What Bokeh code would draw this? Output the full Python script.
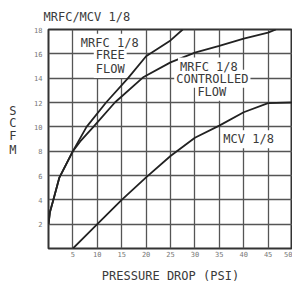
from bokeh.plotting import figure
from bokeh.models import Label, FixedTicker, Range1d, LinearAxis
from bokeh.embed import file_html
from bokeh.resources import INLINE

# data
free_x = [0, 0.3, 1.0, 2.2, 5.0, 7.8, 11.8, 16.3, 20.0, 25.0, 27.5]
free_y = [2, 3.0, 4.0, 5.8, 8.0, 10.0, 12.0, 14.0, 15.8, 17.1, 18.0]
ctrl_x = [0, 0.3, 1.0, 2.2, 5.0, 6.5, 9.2, 13.6, 19.5, 25.0, 30.0, 35.0, 40.0, 45.0, 46.6]
ctrl_y = [2, 3.0, 4.0, 5.8, 8.0, 8.8, 10.0, 12.0, 14.1, 15.3, 16.1, 16.65, 17.25, 17.75, 18.0]
mcv_x = [5, 10, 15, 20, 25, 30, 35, 40, 45, 50]
mcv_y = [0, 2, 4, 5.85, 7.6, 9.1, 10.1, 11.2, 11.95, 12.0]
x_ticks = [5, 10, 15, 20, 25, 30, 35, 40, 45, 50]
y_ticks = [2, 4, 6, 8, 10, 12, 14, 16, 18]
title_text = "MRFC/MCV 1/8"
x_title = "PRESSURE DROP (PSI)"
y_title_letters = ["S", "C", "F", "M"]

FONT = "DejaVu Sans Mono"
TXT = "#3a3a3a"

p = figure(width=292, height=285, output_backend="svg", toolbar_location=None,
           x_range=Range1d(0, 50), y_range=Range1d(0, 18),
           min_border_left=48, min_border_right=0, min_border_top=29, min_border_bottom=35,
           title=title_text)
p.background_fill_color = "white"
p.border_fill_color = "white"
p.outline_line_color = "#333333"
p.outline_line_width = 2

p.title.text_font = FONT
p.title.text_font_size = "12px"
p.title.text_font_style = "normal"
p.title.text_color = TXT
p.title.align = "left"
p.title.offset = -5
p.title.standoff = 12

p.xaxis.ticker = FixedTicker(ticks=x_ticks)
p.yaxis.ticker = FixedTicker(ticks=y_ticks)
for ax in (p.xaxis, p.yaxis):
    ax.axis_line_color = None
    ax.major_tick_line_color = None
    ax.minor_tick_line_color = None
    ax.major_tick_out = 0
    ax.major_tick_in = 0
    ax.major_label_text_font = FONT
    ax.major_label_text_font_size = "7px"
    ax.major_label_text_color = "#777777"
p.xaxis.major_label_standoff = 2
p.yaxis.major_label_standoff = 6
p.xaxis.axis_label = x_title
p.xaxis.axis_label_text_font = FONT
p.xaxis.axis_label_text_font_size = "12px"
p.xaxis.axis_label_text_font_style = "normal"
p.xaxis.axis_label_text_color = TXT
p.xaxis.axis_label_standoff = 9

# stacked upright y-axis title via an extra axis with overridden labels
letter_pos = [11.34, 10.30, 9.24, 8.07]
yl = LinearAxis(ticker=FixedTicker(ticks=letter_pos),
                major_label_overrides={v: t for v, t in zip(letter_pos, y_title_letters)},
                axis_line_color=None, major_tick_line_color=None, minor_tick_line_color=None,
                major_tick_out=0, major_tick_in=0, major_label_standoff=15,
                major_label_text_font=FONT, major_label_text_font_size="12px",
                major_label_text_color=TXT)
p.add_layout(yl, "left")

p.grid.grid_line_color = "#555555"
p.grid.grid_line_width = 1.3

p.line(free_x, free_y, line_color="#222222", line_width=1.8)
p.line(ctrl_x, ctrl_y, line_color="#222222", line_width=1.8)
p.line(mcv_x, mcv_y, line_color="#222222", line_width=1.8)

labels = [("MRFC 1/8", 12.55, 16.91), ("FREE", 12.65, 15.9), ("FLOW", 12.65, 14.76),
          ("MRFC 1/8", 32.86, 14.95), ("CONTROLLED", 33.57, 13.95), ("FLOW", 33.47, 12.89),
          ("MCV 1/8", 41.0, 8.97)]
# white boxes first, then text on top
for t, x, y in labels:
    p.add_layout(Label(x=x, y=y, text=t, text_font=FONT, text_font_size="12px",
                       text_color="white", text_align="center", text_baseline="middle",
                       background_fill_color="white", padding=2))
for t, x, y in labels:
    p.add_layout(Label(x=x, y=y, text=t, text_font=FONT, text_font_size="12px",
                       text_color=TXT, text_align="center", text_baseline="middle"))

open("out.html", "w").write(file_html(p, INLINE))
